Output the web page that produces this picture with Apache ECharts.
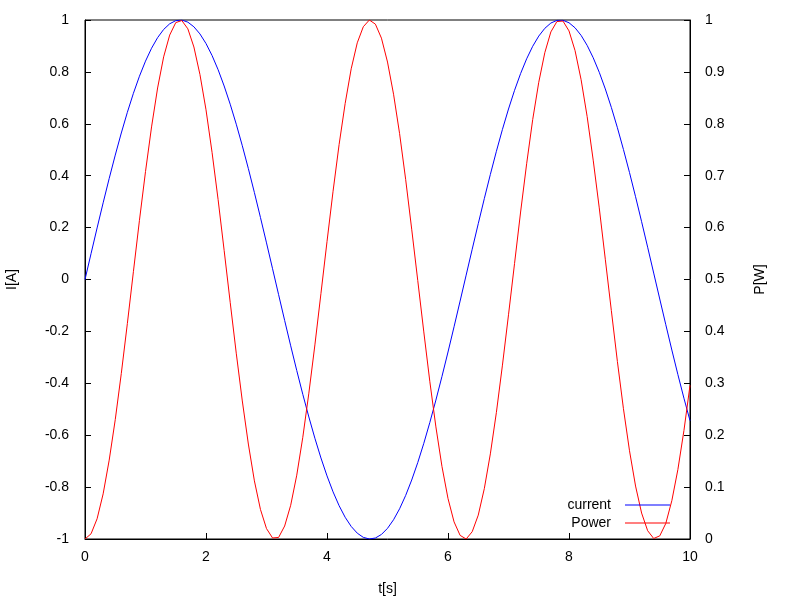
<!DOCTYPE html>
<html><head><meta charset="utf-8">
<script src="https://cdn.jsdelivr.net/npm/echarts@6/dist/echarts.min.js"></script>
<style>html,body{margin:0;padding:0;background:#fff}#c{width:800px;height:600px}</style>
</head><body><div id="c"></div>
<script>
const tValues = [0,0.1,0.2,0.3,0.4,0.5,0.6,0.7,0.8,0.9,1.0,1.1,1.2,1.3,1.4,1.5,1.6,1.7,1.8,1.9,2.0,2.1,2.2,2.3,2.4,2.5,2.6,2.7,2.8,2.9,3.0,3.1,3.2,3.3,3.4,3.5,3.6,3.7,3.8,3.9,4.0,4.1,4.2,4.3,4.4,4.5,4.6,4.7,4.8,4.9,5.0,5.1,5.2,5.3,5.4,5.5,5.6,5.7,5.8,5.9,6.0,6.1,6.2,6.3,6.4,6.5,6.6,6.7,6.8,6.9,7.0,7.1,7.2,7.3,7.4,7.5,7.6,7.7,7.8,7.9,8.0,8.1,8.2,8.3,8.4,8.5,8.6,8.7,8.8,8.9,9.0,9.1,9.2,9.3,9.4,9.5,9.6,9.7,9.8,9.9,10.0];
const currentValues = [0,0.0998,0.1987,0.2955,0.3894,0.4794,0.5646,0.6442,0.7174,0.7833,0.8415,0.8912,0.9320,0.9636,0.9854,0.9975,0.9996,0.9917,0.9738,0.9463,0.9093,0.8632,0.8085,0.7457,0.6755,0.5985,0.5155,0.4274,0.3350,0.2392,0.1411,0.0416,-0.0584,-0.1577,-0.2555,-0.3508,-0.4425,-0.5298,-0.6119,-0.6878,-0.7568,-0.8183,-0.8716,-0.9162,-0.9516,-0.9775,-0.9937,-0.9999,-0.9962,-0.9825,-0.9589,-0.9258,-0.8835,-0.8323,-0.7728,-0.7055,-0.6313,-0.5507,-0.4646,-0.3739,-0.2794,-0.1822,-0.0831,0.0168,0.1165,0.2151,0.3115,0.4048,0.4941,0.5784,0.6570,0.7290,0.7937,0.8504,0.8987,0.9380,0.9679,0.9882,0.9985,0.9989,0.9894,0.9699,0.9407,0.9022,0.8546,0.7985,0.7344,0.6630,0.5849,0.5010,0.4121,0.3191,0.2229,0.1245,0.0248,-0.0752,-0.1743,-0.2718,-0.3665,-0.4575,-0.5440];
const powerValues = [0,0.010,0.039,0.087,0.152,0.230,0.319,0.415,0.515,0.614,0.708,0.794,0.869,0.929,0.971,0.995,0.999,0.983,0.948,0.895,0.827,0.745,0.654,0.556,0.456,0.358,0.266,0.183,0.112,0.057,0.020,0.002,0.003,0.025,0.065,0.123,0.196,0.281,0.374,0.473,0.573,0.670,0.760,0.839,0.906,0.956,0.987,1.000,0.992,0.965,0.919,0.857,0.781,0.693,0.597,0.498,0.399,0.303,0.216,0.140,0.078,0.033,0.007,0.000,0.014,0.046,0.097,0.164,0.244,0.335,0.432,0.531,0.630,0.723,0.808,0.880,0.937,0.977,0.997,0.998,0.979,0.941,0.885,0.814,0.730,0.638,0.539,0.440,0.342,0.251,0.170,0.102,0.050,0.016,0.001,0.006,0.030,0.074,0.134,0.209,0.296];
const seriesNames = ['current','Power'];

const chart = echarts.init(document.getElementById('c'), null, {renderer:'canvas'});
const font = 'Liberation Sans';
const txt = {color:'#000', fontFamily:font, fontSize:14};
chart.setOption({
  animation:false,
  backgroundColor:'#fff',
  grid:{left:85,right:110,top:20,bottom:61,show:true,borderColor:'#000',borderWidth:1,backgroundColor:'transparent',containLabel:false,outerBoundsMode:'none'},
  legend:{
    orient:'vertical', right:130, top:496, align:'right', padding:0,
    itemWidth:45, itemHeight:1, itemGap:0, icon:'rect',
    textStyle:Object.assign({}, txt, {padding:[0,9,0,0], lineHeight:18}),
    data:seriesNames
  },
  xAxis:{type:'value',min:0,max:10,interval:2,name:'t[s]',nameLocation:'middle',nameGap:43,nameTextStyle:txt,
    axisLine:{onZero:false,lineStyle:{color:'#000'}},axisTick:{inside:true,length:6,lineStyle:{color:'#000'}},
    axisLabel:Object.assign({margin:11},txt),splitLine:{show:false}},
  yAxis:[
    {type:'value',min:-1,max:1,interval:0.2,name:'I[A]',nameLocation:'middle',nameGap:66,nameRotate:90,nameTextStyle:txt,
     axisLine:{show:true,onZero:false,lineStyle:{color:'#000'}},axisTick:{inside:true,length:6,lineStyle:{color:'#000'}},
     axisLabel:Object.assign({margin:16},txt),splitLine:{show:false}},
    {type:'value',min:0,max:1,interval:0.1,position:'right',name:'P[W]',nameLocation:'middle',nameGap:63,nameRotate:90,nameTextStyle:txt,
     axisLine:{show:true,onZero:false,lineStyle:{color:'#000'}},axisTick:{inside:true,length:6,lineStyle:{color:'#000'}},
     axisLabel:Object.assign({margin:15},txt),splitLine:{show:false}}
  ],
  series:[
    {name:seriesNames[0],type:'line',yAxisIndex:0,showSymbol:false,symbol:'none',
     itemStyle:{color:'#0000ff'},lineStyle:{color:'#0000ff',width:1},
     data:tValues.map((t,i)=>[t,currentValues[i]])},
    {name:seriesNames[1],type:'line',yAxisIndex:1,showSymbol:false,symbol:'none',
     itemStyle:{color:'#ff0000'},lineStyle:{color:'#ff0000',width:1},
     data:tValues.map((t,i)=>[t,powerValues[i]])}
  ]
});
</script></body></html>
